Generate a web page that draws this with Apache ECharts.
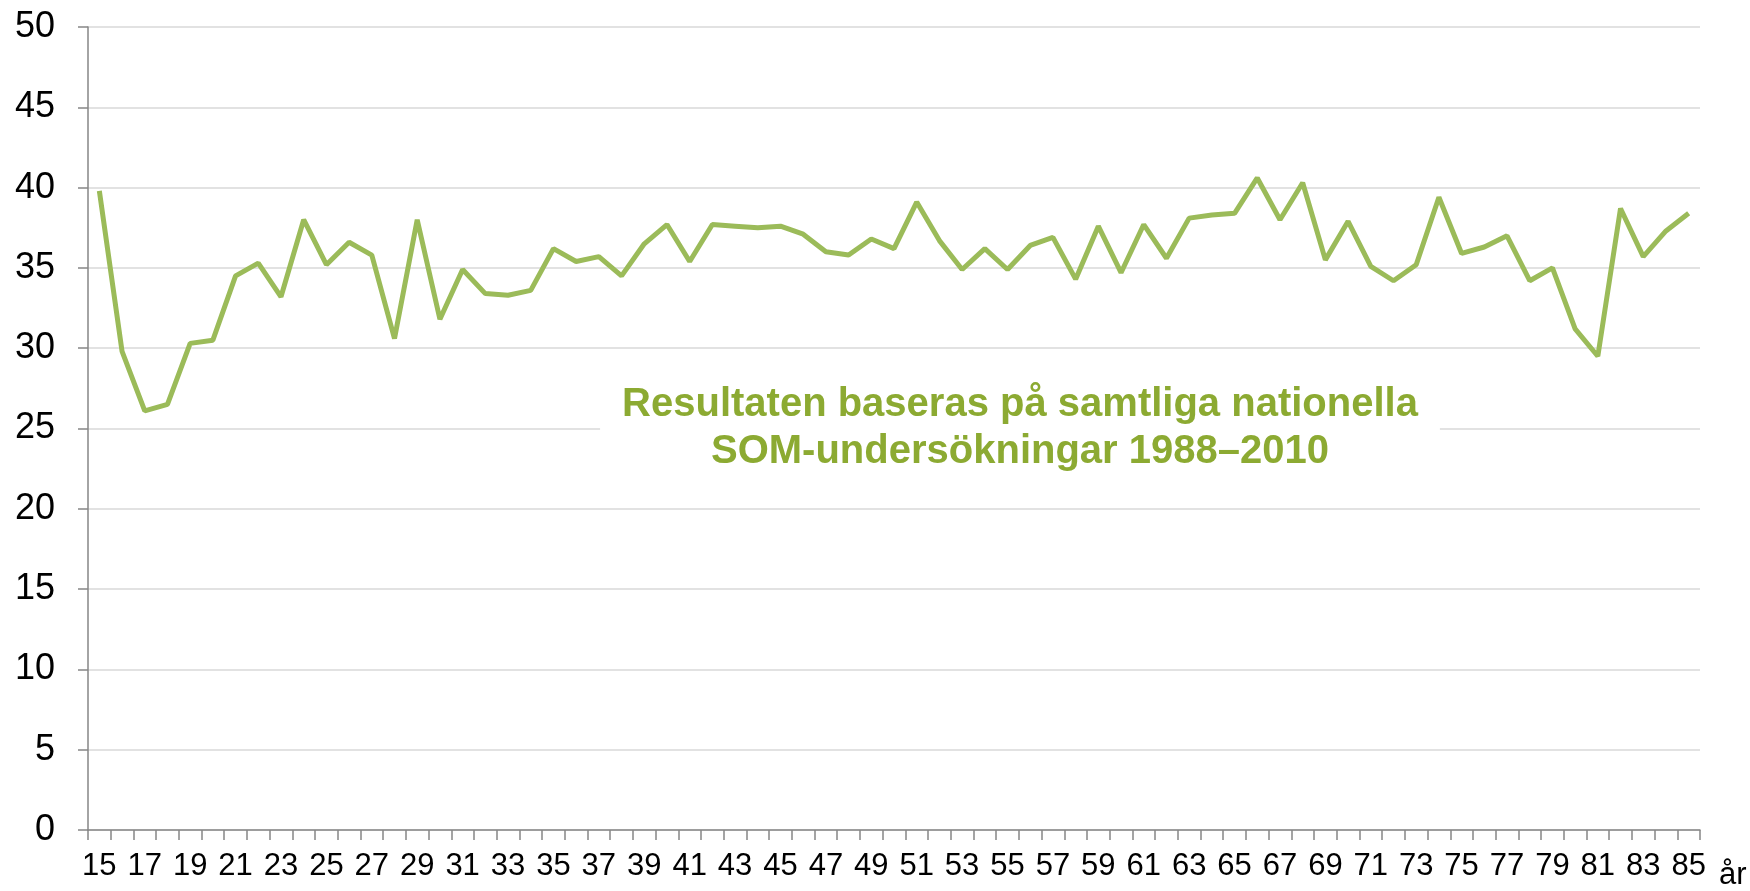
<!DOCTYPE html>
<html>
<head>
<meta charset="utf-8">
<script src="https://cdn.jsdelivr.net/npm/echarts@6/dist/echarts.min.js"></script>
<style>
  html, body { margin: 0; padding: 0; background: #fff; }
  #chart { width: 1750px; height: 891px; }
</style>
</head>
<body>
<div id="chart"></div>
<script>
// ålder 15..85
const years = []
for (let a = 15; a <= 85; a++) years.push(String(a))

const values = [
  39.8, 29.8, 26.1, 26.5, 30.3, 30.5, 34.5, 35.3, 33.2, 38.0,
  35.2, 36.6, 35.8, 30.6, 38.0, 31.8, 34.9, 33.4, 33.3, 33.6,
  36.2, 35.4, 35.7, 34.5, 36.5, 37.7, 35.4, 37.7, 37.6, 37.5,
  37.6, 37.1, 36.0, 35.8, 36.8, 36.2, 39.1, 36.7, 34.9, 36.2,
  34.9, 36.4, 36.9, 34.3, 37.6, 34.7, 37.7, 35.6, 38.1, 38.3,
  38.4, 40.6, 38.0, 40.3, 35.5, 37.9, 35.1, 34.2, 35.2, 39.4,
  35.9, 36.3, 37.0, 34.2, 35.0, 31.2, 29.5, 38.7, 35.7, 37.3,
  38.4
]

const note = 'Resultaten baseras på samtliga nationella\nSOM-undersökningar 1988–2010'

const font = "'Liberation Sans', Arial, sans-serif"
const axisGray = '#868686'

const chart = echarts.init(document.getElementById('chart'))
chart.setOption({
  animation: false,
  grid: { left: 88, right: 50, top: 27, bottom: 58 },
  xAxis: {
    type: 'category',
    data: years,
    boundaryGap: true,
    name: 'år',
    nameLocation: 'end',
    nameGap: 19,
    nameTextStyle: {
      fontFamily: font, fontSize: 31, color: '#000',
      align: 'left', verticalAlign: 'top', padding: [30, 0, 0, 0]
    },
    axisLine: { lineStyle: { color: axisGray, width: 1.5 } },
    axisTick: { show: true, interval: 0, length: 10, lineStyle: { color: axisGray, width: 1.5 } },
    axisLabel: { interval: 1, margin: 21, fontFamily: font, fontSize: 31, color: '#000' },
    splitLine: { show: false }
  },
  yAxis: {
    type: 'value',
    min: 0,
    max: 50,
    interval: 5,
    axisLine: { show: true, lineStyle: { color: axisGray, width: 1.5 } },
    axisTick: { show: true, length: 10, lineStyle: { color: axisGray, width: 1.5 } },
    axisLabel: { margin: 33, fontFamily: font, fontSize: 36, color: '#000' },
    splitLine: { lineStyle: { color: '#D9D9D9', width: 1.5 } }
  },
  series: [
    {
      type: 'line',
      data: values,
      showSymbol: false,
      symbol: 'none',
      lineStyle: { color: '#9BBB59', width: 5 },
      z: 2
    }
  ],
  graphic: [
    {
      type: 'text',
      z: 10,
      x: 1020,
      y: 428,
      style: {
        text: note,
        font: 'bold 40px ' + font,
        fill: '#8CAA32',
        align: 'center',
        verticalAlign: 'middle',
        lineHeight: 47,
        backgroundColor: '#fff',
        padding: [12, 22, 12, 22]
      }
    }
  ]
})
</script>
</body>
</html>
